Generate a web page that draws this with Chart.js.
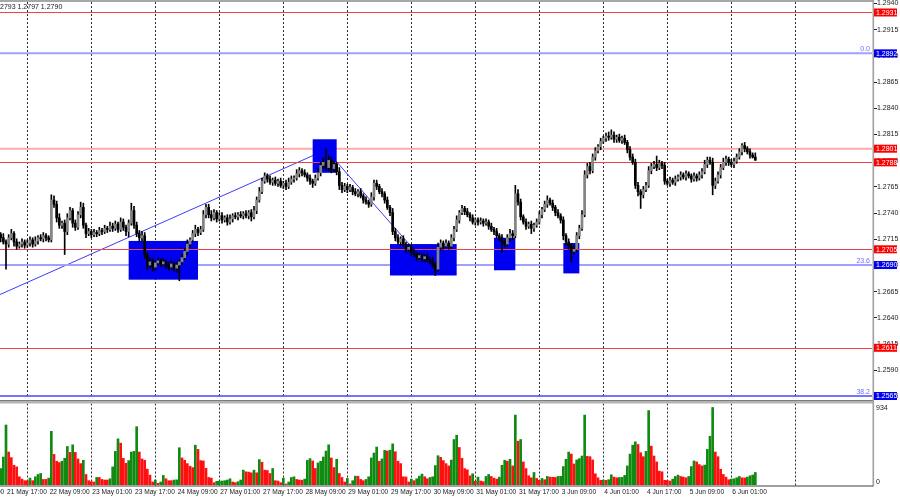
<!DOCTYPE html>
<html>
<head>
<meta charset="utf-8">
<script src="https://cdn.jsdelivr.net/npm/chart.js@4.4.1/dist/chart.umd.min.js"></script>
<style>
  html, body { margin: 0; padding: 0; background: #fff; }
  #wrap { position: relative; width: 900px; height: 500px; overflow: hidden; }
  canvas { position: absolute; left: 0; }
  #price { top: 0; }
  #volume { top: 400px; }
</style>
</head>
<body>
<div id="wrap">
  <canvas id="price" width="900" height="400"></canvas>
  <canvas id="volume" width="900" height="100"></canvas>
</div>
<script>
// GBPUSD H1, 21 May 14:00 .. 6 Jun 10:00, one value per bar
const firstOpen = 1.2722;
const closes = [
  1.2719, 1.2716, 1.2712, 1.2710, 1.2716, 1.2720, 1.2712, 1.2708, 1.2710, 1.2712,
  1.2709, 1.2711, 1.2714, 1.2710, 1.2713, 1.2716, 1.2715, 1.2718, 1.2716, 1.2714,
  1.2752, 1.2748, 1.2735, 1.2728, 1.2730, 1.2722, 1.2735, 1.2742, 1.2730, 1.2726,
  1.2738, 1.2745, 1.2728, 1.2720, 1.2722, 1.2719, 1.2721, 1.2720, 1.2723, 1.2722,
  1.2725, 1.2724, 1.2727, 1.2725, 1.2729, 1.2724, 1.2731, 1.2726, 1.2722, 1.2730,
  1.2742, 1.2728, 1.2720, 1.2716, 1.2718, 1.2700, 1.2690, 1.2693, 1.2688, 1.2692,
  1.2694, 1.2691, 1.2693, 1.2690, 1.2688, 1.2691, 1.2687, 1.2690, 1.2693, 1.2697,
  1.2703, 1.2710, 1.2714, 1.2720, 1.2724, 1.2721, 1.2724, 1.2738, 1.2745, 1.2738,
  1.2735, 1.2740, 1.2734, 1.2737, 1.2733, 1.2735, 1.2731, 1.2734, 1.2737, 1.2736,
  1.2738, 1.2737, 1.2739, 1.2737, 1.2740, 1.2736, 1.2742, 1.2752, 1.2760, 1.2770,
  1.2775, 1.2772, 1.2769, 1.2771, 1.2768, 1.2770, 1.2766, 1.2768, 1.2765, 1.2769,
  1.2772, 1.2773, 1.2777, 1.2780, 1.2778, 1.2776, 1.2773, 1.2770, 1.2768, 1.2773,
  1.2778, 1.2785, 1.2788, 1.2783, 1.2790, 1.2782, 1.2786, 1.2779, 1.2766, 1.2762,
  1.2765, 1.2762, 1.2764, 1.2760, 1.2758, 1.2760, 1.2756, 1.2752, 1.2750, 1.2748,
  1.2755, 1.2768, 1.2765, 1.2760, 1.2758, 1.2752, 1.2745, 1.2740, 1.2722, 1.2716,
  1.2712, 1.2715, 1.2710, 1.2705, 1.2707, 1.2702, 1.2700, 1.2697, 1.2699, 1.2696,
  1.2698, 1.2695, 1.2694, 1.2690, 1.2686, 1.2707, 1.2711, 1.2708, 1.2711, 1.2708,
  1.2716, 1.2724, 1.2733, 1.2740, 1.2744, 1.2741, 1.2738, 1.2735, 1.2731, 1.2733,
  1.2731, 1.2732, 1.2730, 1.2731, 1.2727, 1.2724, 1.2722, 1.2718, 1.2716, 1.2712,
  1.2710, 1.2716, 1.2720, 1.2718, 1.2758, 1.2750, 1.2736, 1.2731, 1.2727, 1.2729,
  1.2725, 1.2728, 1.2731, 1.2738, 1.2743, 1.2748, 1.2752, 1.2749, 1.2745, 1.2740,
  1.2737, 1.2733, 1.2718, 1.2712, 1.2708, 1.2703, 1.2705, 1.2718, 1.2725, 1.2738,
  1.2776, 1.2784, 1.2780, 1.2793, 1.2799, 1.2803, 1.2808, 1.2811, 1.2813, 1.2812,
  1.2814, 1.2810, 1.2812, 1.2809, 1.2811, 1.2807, 1.2800, 1.2793, 1.2788, 1.2766,
  1.2760, 1.2757, 1.2762, 1.2766, 1.2780, 1.2784, 1.2786, 1.2783, 1.2787, 1.2785,
  1.2770, 1.2768, 1.2771, 1.2769, 1.2772, 1.2774, 1.2776, 1.2774, 1.2777, 1.2775,
  1.2772, 1.2775, 1.2773, 1.2776, 1.2779, 1.2786, 1.2790, 1.2788, 1.2766, 1.2770,
  1.2776, 1.2783, 1.2788, 1.2791, 1.2788, 1.2786, 1.2789, 1.2793, 1.2798, 1.2804,
  1.2801, 1.2798, 1.2795, 1.2793, 1.2790
];
// wick lengths above / below the body, in pips
const upWicks = [
  3,2,4,2,3,4,2,3,2,3, 2,3,3,2,4,2,3,3,2,2, 5,4,3,4,2,3,4,3,2,3, 3,5,4,2,3,2,3,2,3,2,
  3,2,4,3,3,2,4,3,2,3, 7,4,3,3,4,3,2,4,3,2, 3,2,3,2,3,3,2,3,2,3, 3,4,2,3,4,2,3,4,3,3,
  4,3,2,3,3,2,3,4,2,3, 2,3,2,3,2,3,4,3,4,3, 3,2,3,2,3,2,3,2,3,4, 3,2,4,3,2,3,2,3,2,3,
  4,3,4,13,4,3,3,2,4,3, 3,2,3,2,3,2,3,2,3,2, 4,3,3,2,3,2,3,2,4,3, 3,2,3,2,3,2,3,2,3,2,
  2,3,2,3,2,4,3,2,3,2, 3,3,4,2,3,2,3,2,3,2, 2,3,2,3,2,3,2,3,2,3, 2,3,4,3,8,4,3,2,3,2,
  3,2,3,3,2,3,4,2,3,2, 3,2,3,2,3,2,4,3,3,4, 4,3,4,3,3,2,3,2,3,4, 5,3,2,3,2,3,2,3,3,3,
  3,2,3,3,4,3,3,8,3,2, 3,2,3,2,3,2,3,2,3,2, 2,3,2,3,3,4,3,3,4,3, 3,3,4,3,2,3,3,3,3,2,
  3,2,3,2,4
];
const downWicks = [
  3,4,2,24,3,2,4,3,2,3, 3,2,3,3,2,3,2,3,3,2, 2,3,4,3,3,22,3,2,4,3, 2,3,3,4,2,3,2,3,2,3,
  2,3,2,3,2,3,2,3,4,5, 2,3,3,4,3,4,5,3,4,3, 2,3,2,3,3,2,3,4,15,3, 2,3,3,2,3,3,2,2,3,3,
  3,2,3,2,3,2,3,2,3,2, 3,2,3,2,3,4,2,3,2,2, 2,3,2,3,2,3,2,3,3,2, 2,3,2,3,3,2,3,3,4,2,
  2,3,3,3,3,4,3,3,4,3, 2,3,2,3,2,3,2,3,2,3, 2,3,3,2,3,3,2,3,3,3, 2,3,2,3,2,3,2,3,2,3,
  3,2,3,3,6,2,3,3,2,3, 2,3,2,3,2,3,2,3,2,3, 3,2,3,2,3,2,3,2,3,10, 3,2,3,4,2,3,3,2,3,2,
  5,3,2,2,3,2,3,2,3,3, 2,3,4,3,3,10,3,2,3,2, 2,3,3,2,3,2,3,2,3,3, 2,3,3,2,3,2,3,3,2,3,
  4,13,3,2,2,3,2,3,2,3, 3,2,3,2,3,2,3,2,3,2, 3,2,3,2,3,2,3,2,9,3, 2,3,2,3,3,2,3,2,2,3,
  3,2,3,1,0
];
const volumes = [
  150, 199, 337, 723, 397, 330, 238, 218, 99, 71,
  52, 52, 83, 52, 99, 127, 139, 67, 67, 83,
  647, 369, 286, 270, 286, 322, 464, 393, 484, 393,
  314, 258, 298, 127, 52, 40, 36, 91, 91, 67,
  60, 60, 75, 218, 405, 556, 504, 322, 262, 294,
  397, 405, 703, 397, 314, 298, 191, 119, 36, 60,
  20, 36, 115, 75, 52, 52, 60, 62, 449, 326,
  298, 258, 226, 210, 480, 429, 294, 290, 202, 91,
  83, 28, 44, 46, 48, 52, 60, 75, 36, 28,
  40, 60, 179, 159, 155, 147, 179, 147, 306, 274,
  179, 175, 139, 199, 52, 48, 28, 83, 12, 36,
  91, 99, 67, 60, 58, 71, 298, 318, 290, 199,
  266, 286, 337, 409, 484, 326, 210, 310, 139, 91,
  36, 79, 12, 52, 107, 105, 67, 52, 67, 99,
  326, 385, 457, 286, 314, 417, 410, 420, 496, 401,
  286, 258, 99, 97, 36, 71, 52, 75, 107, 131,
  99, 75, 91, 99, 234, 353, 333, 294, 258, 230,
  300, 548, 600, 452, 321, 198, 183, 111, 135, 44,
  95, 48, 40, 103, 127, 103, 83, 71, 95, 238,
  298, 286, 310, 230, 842, 528, 548, 278, 198, 111,
  87, 151, 79, 56, 79, 64, 103, 95, 93, 91,
  103, 105, 222, 310, 397, 373, 254, 302, 318, 349,
  842, 345, 341, 302, 135, 87, 56, 60, 56, 64,
  123, 95, 87, 90, 92, 115, 230, 373, 480, 520,
  488, 389, 341, 405, 897, 468, 349, 278, 167, 159,
  56, 54, 48, 71, 103, 119, 103, 95, 87, 103,
  222, 290, 278, 246, 230, 240, 429, 588, 934, 397,
  341, 190, 127, 95, 64, 71, 75, 87, 103, 87,
  85, 95, 111, 120, 151
];

// time axis: one label every 16 bars, first one at bar -13
const timeLabels = ["21 May 01:00", "21 May 17:00", "22 May 09:00", "23 May 01:00", "23 May 17:00",
  "24 May 09:00", "27 May 01:00", "27 May 17:00", "28 May 09:00", "29 May 01:00", "29 May 17:00",
  "30 May 09:00", "31 May 01:00", "31 May 17:00", "3 Jun 09:00", "4 Jun 01:00", "4 Jun 17:00",
  "5 Jun 09:00", "6 Jun 01:00"];
const firstLabelBar = -13;
const labelStep = 16;
const gridBars = [11, 35, 59, 83, 107, 131, 155, 179, 203, 227, 251, 275, 299];

const priceTicks = [1.2940, 1.2915, 1.2890, 1.2865, 1.2840, 1.2815, 1.2790, 1.2765, 1.2740,
  1.2715, 1.2690, 1.2665, 1.2640, 1.2615, 1.2590, 1.2565];
const redLevels = [1.2931, 1.2788, 1.2705, 1.2611];
const pinkLevels = [1.2801];
const fiboLevels = [1.2892, 1.2690, 1.2565];
const fiboNames = ["0.0", "23.6", "38.2"];

// zones (bar from..to, price low..high) and trend lines (bar, price pairs)
const zoneBars = [[49, 75], [118, 127], [147, 172], [186, 194], [212, 218]];
const zonePrices = [[1.2676, 1.2713], [1.2778, 1.2810], [1.2680, 1.2710], [1.2685, 1.2716], [1.2682, 1.2711]];
const trendBars = [[0, 123], [123, 154.5]];
const trendPrices = [[1.2661, 1.2800], [1.2800, 1.2709]];

const volumeMax = 934;
const headerText = "2793 1.2797 1.2790";

const pip = 0.0001;
const opens = closes.map((c, i) => (i === 0 ? firstOpen : closes[i - 1]));
const highs = closes.map((c, i) => Math.max(opens[i], c) + upWicks[i] * pip);
const lows = closes.map((c, i) => Math.min(opens[i], c) - downWicks[i] * pip);

const wickData = closes.map((c, i) => ({ x: i, y: [lows[i], highs[i]] }));
const bodyData = closes.map((c, i) => {
  let lo = Math.min(opens[i], c), hi = Math.max(opens[i], c);
  if (hi - lo < 0.00004) { lo -= 0.00003; hi += 0.00003; }
  return { x: i, y: [lo, hi] };
});
const bodyColors = closes.map((c, i) => (c >= opens[i] ? "#858585" : "#000000"));
const volData = volumes.map((v, i) => ({ x: i, y: v }));
const volColors = volumes.map((v, i) => (i > 0 && v > volumes[i - 1] ? "#108a10" : "#ff1010"));

const FONT = '7px "Liberation Sans", Arial, sans-serif';
const TIME_FONT = '6.6px "Liberation Sans", Arial, sans-serif';
const xMin = 0.75, xMax = 327.75;

function dottedGrid(ctx, x, top, bottom) {
  ctx.save();
  ctx.strokeStyle = "#303030";
  ctx.lineWidth = 1;
  ctx.setLineDash([2, 2]);
  gridBars.forEach(b => {
    const px = Math.round(x.getPixelForValue(b)) + 0.5;
    ctx.beginPath();
    ctx.moveTo(px, top);
    ctx.lineTo(px, bottom);
    ctx.stroke();
  });
  ctx.restore();
}

function hline(ctx, a, py, color, width) {
  ctx.strokeStyle = color;
  ctx.lineWidth = width;
  ctx.beginPath();
  ctx.moveTo(a.left, py);
  ctx.lineTo(a.right, py);
  ctx.stroke();
}

const pricePane = {
  id: "pricePane",
  beforeDatasetsDraw(chart) {
    const { ctx, chartArea: a, scales: { x, y } } = chart;
    ctx.save();
    ctx.beginPath();
    ctx.rect(a.left, a.top, a.right - a.left, a.bottom - a.top);
    ctx.clip();
    dottedGrid(ctx, x, a.top, a.bottom);

    ctx.strokeStyle = "#3a3aff";
    ctx.lineWidth = 1;
    trendBars.forEach((b, k) => {
      ctx.beginPath();
      ctx.moveTo(x.getPixelForValue(b[0]), y.getPixelForValue(trendPrices[k][0]));
      ctx.lineTo(x.getPixelForValue(b[1]), y.getPixelForValue(trendPrices[k][1]));
      ctx.stroke();
    });

    fiboLevels.forEach((p, k) => {
      const last = k === fiboLevels.length - 1;
      hline(ctx, a, y.getPixelForValue(p), last ? "#4646ff" : "#a0a0ff", last ? 1.4 : 2);
    });
    pinkLevels.forEach(p => hline(ctx, a, y.getPixelForValue(p), "#ffaaaa", 2));

    ctx.fillStyle = "#0000f0";
    zoneBars.forEach((b, k) => {
      const x1 = x.getPixelForValue(b[0]), x2 = x.getPixelForValue(b[1]);
      const y1 = y.getPixelForValue(zonePrices[k][1]), y2 = y.getPixelForValue(zonePrices[k][0]);
      ctx.fillRect(x1, y1, x2 - x1, y2 - y1);
    });

    redLevels.forEach(p => hline(ctx, a, Math.round(y.getPixelForValue(p)) + 0.5, "#f04444", 1));
    ctx.restore();
  },
  afterDraw(chart) {
    const { ctx, chartArea: a, scales: { y } } = chart;
    ctx.save();
    // frame
    ctx.fillStyle = "#505050";
    ctx.fillRect(0, 0.5, a.right + 2, 1);
    ctx.fillStyle = "#a0a0a0";
    ctx.fillRect(a.right + 0.5, 0, 1.6, chart.height);

    ctx.font = FONT;
    ctx.textBaseline = "middle";
    ctx.textAlign = "left";
    ctx.fillStyle = "#202020";
    ctx.fillText(headerText, 0, 7);

    priceTicks.forEach(p => {
      const py = y.getPixelForValue(p);
      ctx.fillStyle = "#202020";
      ctx.fillRect(a.right + 2, Math.round(py), 3, 1);
      ctx.fillText(p.toFixed(4), a.right + 5, py + 0.5);
    });

    const box = (p, bg) => {
      const py = y.getPixelForValue(p);
      ctx.fillStyle = bg;
      ctx.fillRect(a.right + 2, py - 4, 23, 8);
      ctx.fillStyle = "#ffffff";
      ctx.fillText(p.toFixed(4), a.right + 4, py + 0.5);
    };
    redLevels.forEach(p => box(p, "#ff0000"));
    pinkLevels.forEach(p => box(p, "#ff0000"));
    fiboLevels.forEach(p => box(p, "#0000f0"));

    ctx.textAlign = "right";
    ctx.fillStyle = "#6a6aff";
    fiboLevels.forEach((p, k) => {
      ctx.fillText(fiboNames[k], a.right - 2, y.getPixelForValue(p) - 4);
    });
    ctx.restore();
  }
};

const volumePane = {
  id: "volumePane",
  beforeDatasetsDraw(chart) {
    const { ctx, chartArea: a, scales: { x } } = chart;
    dottedGrid(ctx, x, 3.5, a.bottom + 1);
  },
  afterDraw(chart) {
    const { ctx, chartArea: a, scales: { x, y } } = chart;
    ctx.save();
    ctx.fillStyle = "#7a7a7a";
    ctx.fillRect(0, 0, a.right + 2, 1);
    ctx.fillStyle = "#b4b4b4";
    ctx.fillRect(0, 1, a.right + 2, 2.5);
    ctx.fillStyle = "#a0a0a0";
    ctx.fillRect(a.right + 0.5, 0, 1.6, a.bottom + 1.5);
    ctx.fillStyle = "#404040";
    ctx.fillRect(0, a.bottom + 0.5, a.right + 1, 1);

    ctx.font = FONT;
    ctx.textBaseline = "middle";
    ctx.textAlign = "left";
    ctx.fillStyle = "#202020";
    ctx.fillText(String(volumeMax), a.right + 4, y.getPixelForValue(volumeMax) + 1);
    ctx.fillText("0", a.right + 4, y.getPixelForValue(0) - 3);

    ctx.beginPath();
    ctx.rect(0, a.bottom, a.right, chart.height - a.bottom);
    ctx.clip();
    ctx.font = TIME_FONT;
    timeLabels.forEach((t, k) => {
      const px = x.getPixelForValue(firstLabelBar + k * labelStep);
      ctx.fillText(t, px + 1, a.bottom + 7);
    });
    ctx.restore();
  }
};

const common = {
  animation: false,
  responsive: false,
  devicePixelRatio: 1,
  plugins: { legend: { display: false }, tooltip: { enabled: false } },
  events: []
};

new Chart(document.getElementById("price"), {
  type: "bar",
  data: {
    datasets: [
      { data: wickData, backgroundColor: "#000000", barThickness: 1, grouped: false, order: 2 },
      { data: bodyData, backgroundColor: bodyColors, barThickness: 2, grouped: false, order: 1 }
    ]
  },
  options: Object.assign({}, common, {
    layout: { padding: { left: 0, right: 28, top: 2, bottom: 2 } },
    scales: {
      x: { type: "linear", min: xMin, max: xMax, display: false, offset: false },
      y: { type: "linear", min: 1.25631, max: 1.29410, display: false }
    }
  }),
  plugins: [pricePane]
});

new Chart(document.getElementById("volume"), {
  type: "bar",
  data: {
    datasets: [
      { data: volData, backgroundColor: volColors, barThickness: 2, grouped: false }
    ]
  },
  options: Object.assign({}, common, {
    layout: { padding: { left: 0, right: 28, top: 4, bottom: 15 } },
    scales: {
      x: { type: "linear", min: xMin, max: xMax, display: false, offset: false },
      y: { type: "linear", min: 0, max: 976, display: false }
    }
  }),
  plugins: [volumePane]
});
</script>
</body>
</html>
